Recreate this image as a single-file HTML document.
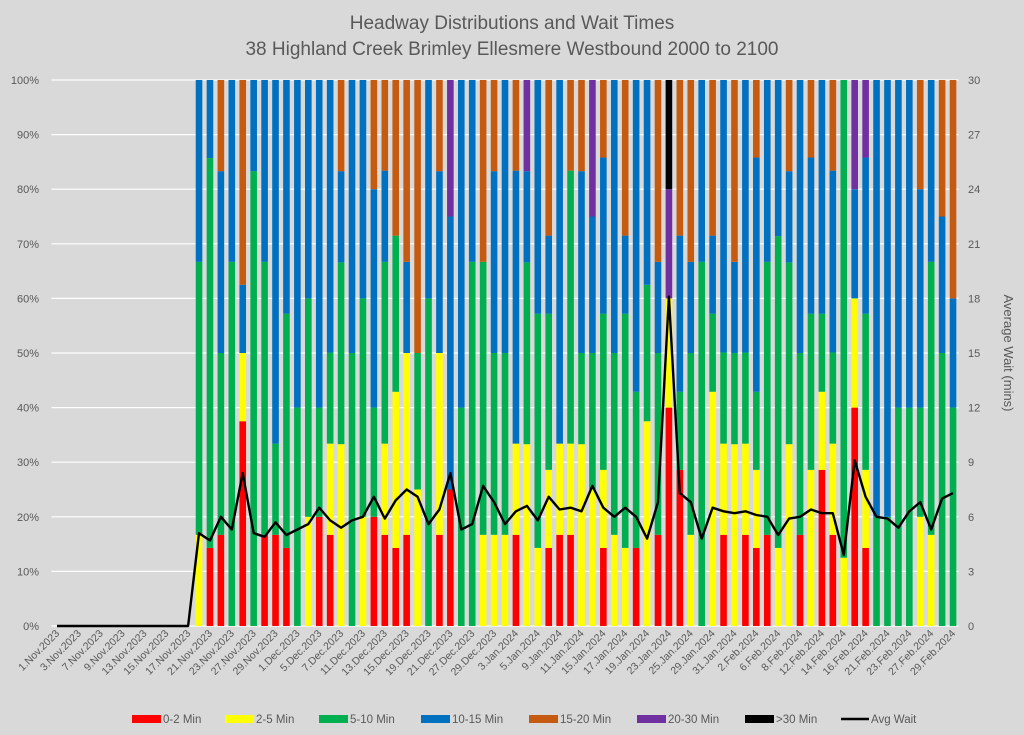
<!DOCTYPE html>
<html><head><meta charset="utf-8">
<style>
html,body{margin:0;padding:0;background:#d9d9d9;}
svg{display:block;font-family:"Liberation Sans",sans-serif;}
</style></head>
<body>
<svg id="chart" width="1024" height="735" viewBox="0 0 1024 735">
  <rect x="0" y="0" width="1024" height="735" fill="#d9d9d9"/>
  <text x="512" y="29" text-anchor="middle" font-size="19" fill="#595959">Headway Distributions and Wait Times</text>
  <text x="512" y="55" text-anchor="middle" font-size="19" fill="#595959">38 Highland Creek  Brimley Ellesmere Westbound 2000 to 2100</text>
  <g id="grid"></g>
  <g id="bars"></g>
  <g id="line"></g>
  <g id="yaxisL"></g>
  <g id="yaxisR"></g>
  <g id="xaxis"></g>
  <text transform="translate(1004,353) rotate(90)" text-anchor="middle" font-size="13" fill="#595959">Average Wait (mins)</text>
  <g id="legend"></g>
</svg>
<script>
const categories = ["1.Nov.2023","2.Nov.2023","3.Nov.2023","6.Nov.2023","7.Nov.2023","8.Nov.2023","9.Nov.2023","10.Nov.2023","13.Nov.2023","14.Nov.2023","15.Nov.2023","16.Nov.2023","17.Nov.2023","20.Nov.2023","21.Nov.2023","22.Nov.2023","23.Nov.2023","24.Nov.2023","27.Nov.2023","28.Nov.2023","29.Nov.2023","30.Nov.2023","1.Dec.2023","4.Dec.2023","5.Dec.2023","6.Dec.2023","7.Dec.2023","8.Dec.2023","11.Dec.2023","12.Dec.2023","13.Dec.2023","14.Dec.2023","15.Dec.2023","18.Dec.2023","19.Dec.2023","20.Dec.2023","21.Dec.2023","22.Dec.2023","27.Dec.2023","28.Dec.2023","29.Dec.2023","2.Jan.2024","3.Jan.2024","4.Jan.2024","5.Jan.2024","8.Jan.2024","9.Jan.2024","10.Jan.2024","11.Jan.2024","12.Jan.2024","15.Jan.2024","16.Jan.2024","17.Jan.2024","18.Jan.2024","19.Jan.2024","22.Jan.2024","23.Jan.2024","24.Jan.2024","25.Jan.2024","26.Jan.2024","29.Jan.2024","30.Jan.2024","31.Jan.2024","1.Feb.2024","2.Feb.2024","5.Feb.2024","6.Feb.2024","7.Feb.2024","8.Feb.2024","9.Feb.2024","12.Feb.2024","13.Feb.2024","14.Feb.2024","15.Feb.2024","16.Feb.2024","20.Feb.2024","21.Feb.2024","22.Feb.2024","23.Feb.2024","26.Feb.2024","27.Feb.2024","28.Feb.2024","29.Feb.2024"];

const pct0to2 = [0,0,0,0,0,0,0,0,0,0,0,0,0,
 0,14.3,16.7,0,37.5,0,16.7,16.7,14.3,0, 0,20,16.7,0,0,0,20,16.7,14.3,16.7, 0,0,16.7,25,0,0,0,0,0,16.7, 0,0,14.3,16.7,16.7,0,0,14.3,0,0, 14.3,0,16.7,40,28.6,0,0,0,16.7,0, 16.7,14.3,16.7,0,0,16.7,0,28.6,16.7,0, 40,14.3,0,0,0,0,0,0,0,0];
const pct2to5 = [0,0,0,0,0,0,0,0,0,0,0,0,0,
 16.7,0,0,0,12.5,0,0,0,0,0, 20,0,16.7,33.3,0,20,0,16.7,28.6,33.3, 25,0,33.3,0,0,0,16.7,16.7,16.7,16.7, 33.3,14.3,14.3,16.7,16.7,33.3,25,14.3,16.7,14.3, 0,37.5,0,20,0,16.7,0,42.9,16.7,33.3, 16.7,14.3,0,14.3,33.3,0,28.6,14.3,16.7,12.5, 20,14.3,0,0,0,0,20,16.7,0,0];
const pct5to10 = [0,0,0,0,0,0,0,0,0,0,0,0,0,
 50,71.4,33.3,66.7,0,83.3,50,16.7,42.9,40, 40,20,16.7,33.3,50,40,20,33.3,28.6,0, 25,60,0,0,40,66.7,50,33.3,33.3,0, 33.3,42.9,28.6,0,50,16.7,25,28.6,33.3,42.9, 28.6,25,33.3,0,14.3,33.3,66.7,14.3,16.7,16.7, 16.7,14.3,50,57.1,33.3,33.3,28.6,14.3,16.7,87.5, 0,28.6,20,20,40,40,20,50,50,40];
const pct10to15 = [0,0,0,0,0,0,0,0,0,0,0,0,0,
 33.3,14.3,33.3,33.3,12.5,16.7,33.3,66.7,42.9,60, 40,60,50,16.7,50,40,40,16.7,0,16.7, 0,40,33.3,50,60,33.3,0,33.3,50,50, 16.7,42.9,14.3,66.7,0,33.3,25,28.6,50,14.3, 57.1,37.5,16.7,0,28.6,16.7,33.3,14.3,50,16.7, 50,42.9,33.3,28.6,16.7,50,28.6,42.9,33.3,0, 20,28.6,80,80,60,60,40,33.3,25,20];
const pct15to20 = [0,0,0,0,0,0,0,0,0,0,0,0,0,
 0,0,16.7,0,37.5,0,0,0,0,0, 0,0,0,16.7,0,0,20,16.7,28.6,33.3, 50,0,16.7,0,0,0,33.3,16.7,0,16.7, 0,0,28.6,0,16.7,16.7,0,14.3,0,28.6, 0,0,33.3,0,28.6,33.3,0,28.6,0,33.3, 0,14.3,0,0,16.7,0,14.3,0,16.7,0, 0,0,0,0,0,0,20,0,25,40];
const pct20to30 = [0,0,0,0,0,0,0,0,0,0,0,0,0,
 0,0,0,0,0,0,0,0,0,0, 0,0,0,0,0,0,0,0,0,0, 0,0,0,25,0,0,0,0,0,0, 16.7,0,0,0,0,0,25,0,0,0, 0,0,0,20,0,0,0,0,0,0, 0,0,0,0,0,0,0,0,0,0, 20,14.3,0,0,0,0,0,0,0,0];
const pctOver30 = [0,0,0,0,0,0,0,0,0,0,0,0,0,
 0,0,0,0,0,0,0,0,0,0, 0,0,0,0,0,0,0,0,0,0, 0,0,0,0,0,0,0,0,0,0, 0,0,0,0,0,0,0,0,0,0, 0,0,0,20,0,0,0,0,0,0, 0,0,0,0,0,0,0,0,0,0, 0,0,0,0,0,0,0,0,0,0];
const avgWait = [0,0,0,0,0,0,0,0,0,0,0,0,0,
 5.1,4.7,6.0,5.3,8.4,5.1,4.9,5.7,5.0,5.3, 5.6,6.5,5.8,5.4,5.8,6.0,7.1,5.9,6.9,7.5, 7.1,5.6,6.4,8.4,5.3,5.6,7.7,6.8,5.6,6.3, 6.6,5.8,7.1,6.4,6.5,6.3,7.7,6.5,6.0,6.5, 6.0,4.8,6.8,18.1,7.3,6.8,4.8,6.5,6.3,6.2, 6.3,6.1,6.0,5.0,5.9,6.0,6.4,6.2,6.2,3.9, 9.1,7.1,6.0,5.9,5.4,6.3,6.8,5.3,7.0,7.3];

const seriesNames = ["0-2 Min","2-5 Min","5-10 Min","10-15 Min","15-20 Min","20-30 Min",">30 Min"];
const seriesColors = ["#ff0000","#ffff00","#00b050","#0070c0","#c55a11","#7030a0","#000000"];
const leftTicks = [0,10,20,30,40,50,60,70,80,90,100];
const rightTicks = [0,3,6,9,12,15,18,21,24,27,30];

const NS = "http://www.w3.org/2000/svg";
const plotL = 51.5, plotR = 958.5, plotT = 80, plotB = 626;
const slot = (plotR - plotL) / categories.length;
const xC = i => plotL + (i + 0.5) * slot;
const yP = p => plotB - (p / 100) * (plotB - plotT);
const yW = m => plotB - (m / 30) * (plotB - plotT);
function mk(tag, attrs, parent){ const e = document.createElementNS(NS, tag); for (const k in attrs) e.setAttribute(k, attrs[k]); parent.appendChild(e); return e; }

const grid = document.getElementById('grid');
const yl = document.getElementById('yaxisL');
const yr = document.getElementById('yaxisR');
leftTicks.forEach(t => {
  const g = mk('line', {x1: plotL, x2: plotR, y1: yP(t), y2: yP(t), stroke: '#ffffff', 'stroke-width': 1.2}, grid);
  
  
  const lt = mk('text', {x: 39, y: yP(t) + 4, 'text-anchor': 'end', 'font-size': 11, fill: '#595959'}, yl);
  lt.textContent = t + '%';
  
  
});
rightTicks.forEach(t => {
  const rt = mk('text', {x: 968, y: yW(t) + 4, 'text-anchor': 'start', 'font-size': 11, fill: '#595959'}, yr);
  rt.textContent = t;
  
  
});

const bars = document.getElementById('bars');
const allSeries = [pct0to2, pct2to5, pct5to10, pct10to15, pct15to20, pct20to30, pctOver30];
const bw = 6.6;
categories.forEach((c, i) => {
  let acc = 0;
  allSeries.forEach((s, k) => {
    const v = s[i];
    if (!v) return;
    const y1 = yP(Math.min(acc + v, 100)), y0 = yP(acc);
    const r = mk('rect', {x: xC(i) - bw / 2, y: y1, width: bw, height: Math.max(0, y0 - y1), fill: seriesColors[k]}, bars);
    
    
    acc += v;
  });
});

const lineG = document.getElementById('line');
const pts = avgWait.map((v, i) => xC(i).toFixed(1) + ',' + yW(v).toFixed(1)).join(' ');
const pl = mk('polyline', {points: pts, fill: 'none', stroke: '#000000', 'stroke-width': 2.4, 'stroke-linejoin': 'round'}, lineG);



const xa = document.getElementById('xaxis');
categories.forEach((c, i) => {
  if (i % 2 !== 0) return;
  const x = xC(i) + 3, y = 634;
  const t = mk('text', {x: x, y: y, 'text-anchor': 'end', 'font-size': 10.5, fill: '#595959', transform: 'rotate(-45 ' + x + ' ' + y + ')'}, xa);
  t.textContent = c;
  
  
});

const leg = document.getElementById('legend');
const legX = [132, 225, 319, 421, 529, 637, 745];
seriesNames.forEach((n, k) => {
  const sw = mk('rect', {x: legX[k], y: 715, width: 29, height: 8, fill: seriesColors[k]}, leg);
  
  
  const tx = mk('text', {x: legX[k] + 31, y: 723, 'font-size': 11.5, fill: '#595959'}, leg);
  tx.textContent = n;
  
  
});
const ll = mk('line', {x1: 841, x2: 869, y1: 719, y2: 719, stroke: '#000', 'stroke-width': 2.4}, leg);


const lt2 = mk('text', {x: 871, y: 723, 'font-size': 11.5, fill: '#595959'}, leg);
lt2.textContent = 'Avg Wait';


</script>
</body></html>
